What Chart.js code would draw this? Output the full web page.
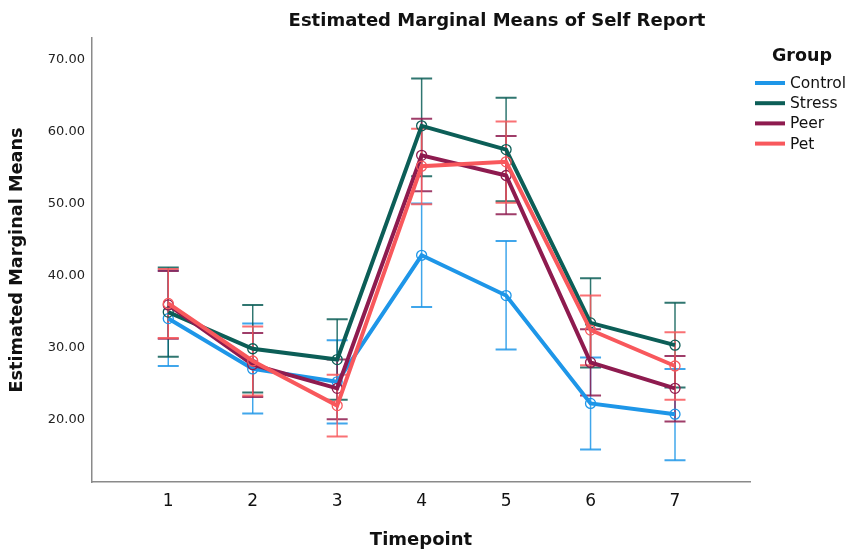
<!DOCTYPE html>
<html lang="en">
<head>
    <meta charset="UTF-8">
    <title>Estimated Marginal Means of Self Report</title>
    <script src="https://cdn.jsdelivr.net/npm/chart.js@4.4.0/dist/chart.umd.min.js"></script>
    <style>
        html, body { margin: 0; padding: 0; background: #fff; }
    </style>
</head>
<body>
    <canvas id="grafico" width="848" height="553"></canvas>
<script>
    // Dados
    var timepoints = [1, 2, 3, 4, 5, 6, 7];
    var groups = ['Control', 'Stress', 'Peer', 'Pet'];

    var controlMean = [34.0, 27.0, 25.2, 42.8, 37.2, 22.2, 20.7];
    var controlLow  = [27.4, 20.8, 19.4, 35.6, 29.7, 15.8, 14.3];
    var controlHigh = [40.7, 33.3, 31.0, 50.0, 44.8, 28.6, 27.0];

    var stressMean = [34.9, 29.8, 28.3, 60.8, 57.5, 33.4, 30.3];
    var stressLow  = [28.7, 23.7, 22.7, 53.8, 50.3, 27.2, 24.4];
    var stressHigh = [41.1, 35.9, 33.9, 67.4, 64.7, 39.6, 36.2];

    var peerMean = [35.9, 27.6, 24.3, 56.7, 53.9, 27.9, 24.3];
    var peerLow  = [31.2, 23.1, 20.0, 51.7, 48.5, 23.3, 19.7];
    var peerHigh = [40.6, 32.0, 28.3, 61.8, 59.4, 32.5, 28.8];

    var petMean = [36.1, 28.1, 21.9, 55.2, 55.8, 32.4, 27.4];
    var petLow  = [31.3, 23.3, 17.6, 49.9, 50.1, 27.5, 22.7];
    var petHigh = [40.9, 32.9, 26.2, 60.4, 61.4, 37.2, 32.1];

    var yTicks = [20, 30, 40, 50, 60, 70];

    var means = [controlMean, stressMean, peerMean, petMean];
    var lows = [controlLow, stressLow, peerLow, petLow];
    var highs = [controlHigh, stressHigh, peerHigh, petHigh];

    var cores = ['#1e96e8', '#0c5e57', '#8e1b4f', '#f8585c'];
    var fonte = "'DejaVu Sans', sans-serif";

    // barras de erro (IC) desenhadas pelas escalas do grafico
    var barrasErro = {
        id: 'barrasErro',
        beforeDatasetsDraw(chart) {
            var ctx = chart.ctx;
            var xs = chart.scales.x, ys = chart.scales.y;
            ctx.save();
            ctx.globalAlpha = 0.85;
            groups.forEach((g, i) => {
                ctx.strokeStyle = cores[i];
                timepoints.forEach((t, j) => {
                    var x = xs.getPixelForValue(t);
                    var y1 = ys.getPixelForValue(lows[i][j]);
                    var y2 = ys.getPixelForValue(highs[i][j]);
                    ctx.lineWidth = 1.5;
                    ctx.beginPath();
                    ctx.moveTo(x, y1);
                    ctx.lineTo(x, y2);
                    ctx.stroke();
                    ctx.lineWidth = 2;
                    ctx.beginPath();
                    ctx.moveTo(x - 10.5, y1);
                    ctx.lineTo(x + 10.5, y1);
                    ctx.moveTo(x - 10.5, y2);
                    ctx.lineTo(x + 10.5, y2);
                    ctx.stroke();
                });
            });
            ctx.restore();
        }
    };

    // titulo e legenda
    var tituloLegenda = {
        id: 'tituloLegenda',
        afterDraw(chart) {
            var ctx = chart.ctx;
            ctx.save();
            ctx.fillStyle = '#111';
            ctx.textAlign = 'center';
            ctx.textBaseline = 'middle';
            ctx.font = "bold 18px " + fonte;
            ctx.fillText('Estimated Marginal Means of Self Report', 497, 21);

            ctx.font = "bold 17.5px " + fonte;
            ctx.fillText('Group', 802, 56);

            ctx.textAlign = 'left';
            ctx.font = "15.5px " + fonte;
            chart.data.datasets.forEach((ds, i) => {
                var y = 83 + i * 20.2;
                ctx.strokeStyle = ds.borderColor;
                ctx.lineWidth = 4;
                ctx.beginPath();
                ctx.moveTo(755, y);
                ctx.lineTo(785, y);
                ctx.stroke();
                ctx.fillStyle = '#111';
                ctx.fillText(ds.label, 790, y + 1);
            });
            ctx.restore();
        }
    };

    var datasets = groups.map((g, i) => ({
        label: g,
        data: timepoints.map((t, j) => ({ x: t, y: means[i][j] })),
        borderColor: cores[i],
        backgroundColor: cores[i],
        borderWidth: 4,
        tension: 0,
        pointRadius: 5,
        pointBorderWidth: 1.3,
        pointBackgroundColor: 'rgba(0,0,0,0)',
        pointBorderColor: cores[i],
        order: groups.length - 1 - i
    }));

    var grafico = new Chart(document.getElementById('grafico').getContext('2d'), {
        type: 'line',
        data: { datasets: datasets },
        plugins: [barrasErro, tituloLegenda],
        options: {
            responsive: false,
            animation: false,
            devicePixelRatio: 1,
            layout: { padding: { top: 38, right: 98, left: 0, bottom: 0 } },
            plugins: {
                legend: { display: false },
                title: { display: false },
                tooltip: { enabled: false }
            },
            scales: {
                x: {
                    type: 'linear',
                    position: 'bottom',
                    min: 0.097,
                    max: 7.888,
                    afterBuildTicks: s => { s.ticks = timepoints.map(v => ({ value: v })); },
                    afterFit: s => { s.height = 71; },
                    grid: { display: false, drawTicks: false },
                    border: { display: true, color: '#8a8a8a', width: 1.5 },
                    ticks: {
                        autoSkip: false,
                        maxRotation: 0,
                        padding: 9,
                        color: '#111',
                        font: { family: fonte, size: 17 },
                        callback: v => String(v)
                    },
                    title: {
                        display: true,
                        text: 'Timepoint',
                        color: '#111',
                        font: { family: fonte, size: 18, weight: 'bold' },
                        padding: { top: 0, bottom: 2 }
                    }
                },
                y: {
                    min: 11.27,
                    max: 73.02,
                    afterBuildTicks: s => { s.ticks = yTicks.map(v => ({ value: v })); },
                    afterFit: s => { s.width = 92; },
                    grid: { display: false, drawTicks: false },
                    border: { display: true, color: '#8a8a8a', width: 1.5 },
                    ticks: {
                        padding: 7,
                        color: '#222',
                        font: { family: fonte, size: 13 },
                        callback: v => Number(v).toFixed(2)
                    },
                    title: {
                        display: true,
                        text: 'Estimated Marginal Means',
                        color: '#111',
                        font: { family: fonte, size: 17.7, weight: 'bold' },
                        padding: { top: 7, bottom: 0 }
                    }
                }
            }
        }
    });
</script>
</body>
</html>
